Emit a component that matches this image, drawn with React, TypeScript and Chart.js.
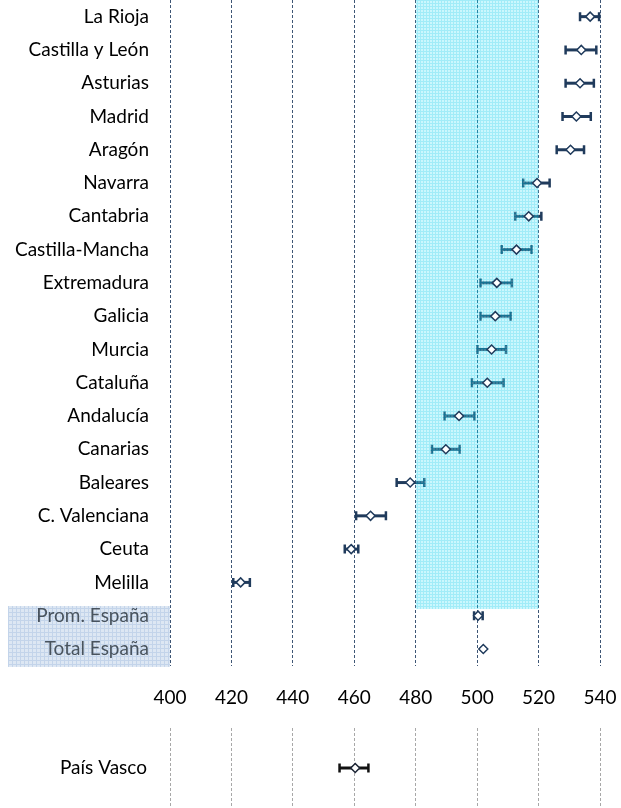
import React, { useEffect, useRef } from "react";
import { Chart, registerables } from "chart.js";

Chart.register(...registerables);

const categories = [
  "La Rioja", "Castilla y León", "Asturias", "Madrid", "Aragón", "Navarra", "Cantabria",
  "Castilla-Mancha", "Extremadura", "Galicia", "Murcia", "Cataluña", "Andalucía", "Canarias",
  "Baleares", "C. Valenciana", "Ceuta", "Melilla", "Prom. España", "Total España",
];
const means = [536.8, 533.9, 533.5, 532.3, 530.4, 519.5, 516.8, 512.8, 506.4, 505.9, 504.7, 503.3, 494.1, 489.8, 478.2, 465.3, 459.0, 423.0, 500.3, 502.0];
const lows = [533.5, 528.8, 528.8, 527.8, 525.9, 515.0, 512.4, 508.0, 501.1, 501.1, 500.1, 498.3, 489.4, 485.3, 473.8, 460.6, 456.9, 420.6, 499.0, 502.0];
const highs = [539.7, 538.8, 538.0, 537.0, 534.8, 523.6, 520.9, 517.7, 511.3, 510.9, 509.4, 508.6, 499.1, 494.3, 482.8, 470.3, 461.3, 426.0, 501.8, 502.0];

const extraCategories = ["País Vasco"];
const extraMeans = [460.3];
const extraLows = [455.2];
const extraHighs = [464.6];

const xTicks = [400, 420, 440, 460, 480, 500, 520, 540];
const bandRange = [480, 520];

const FONT = "Lato";

function makePattern(size: number, bg: string, line: string) {
  const c = document.createElement("canvas");
  c.width = size;
  c.height = size;
  const g = c.getContext("2d")!;
  g.fillStyle = bg;
  g.fillRect(0, 0, size, size);
  g.fillStyle = line;
  g.fillRect(0, 0, size, 1);
  g.fillRect(0, 0, 1, size);
  return g.createPattern(c, "repeat")!;
}

function zeroPad(s: any) {
  s.paddingTop = 0;
  s.paddingBottom = 0;
  s.paddingLeft = 0;
  s.paddingRight = 0;
}

function errorBarPlugin(lo: number[], hi: number[], color: string, band: boolean) {
  return {
    id: "errorBars",
    beforeDatasetsDraw(chart: any) {
      const { ctx, scales, chartArea } = chart;
      const x = scales.x;
      const y = scales.y;
      ctx.save();
      ctx.strokeStyle = color;
      lo.forEach((l, i) => {
        const x1 = x.getPixelForValue(l);
        const x2 = x.getPixelForValue(hi[i]);
        const yy = y.getPixelForValue(i);
        if (x2 - x1 < 1) return;
        ctx.lineWidth = 3;
        ctx.beginPath();
        ctx.moveTo(x1, yy);
        ctx.lineTo(x2, yy);
        ctx.stroke();
        ctx.lineWidth = 2.5;
        ctx.beginPath();
        ctx.moveTo(x1, yy - 4.5);
        ctx.lineTo(x1, yy + 4.5);
        ctx.moveTo(x2, yy - 4.5);
        ctx.lineTo(x2, yy + 4.5);
        ctx.stroke();
      });
      if (band) {
        const bx1 = x.getPixelForValue(bandRange[0]);
        const bx2 = x.getPixelForValue(bandRange[1]);
        const by2 = y.getPixelForValue(17.8);
        ctx.globalAlpha = 0.38;
        ctx.fillStyle = makePattern(3, "rgb(120,234,250)", "rgb(10,205,236)");
        ctx.fillRect(bx1, chartArea.top, bx2 - bx1, by2 - chartArea.top);
      }
      ctx.restore();
    },
  };
}

const labelBoxPlugin = {
  id: "labelBox",
  beforeDraw(chart: any) {
    const { ctx, scales, chartArea } = chart;
    const y = scales.y;
    const top = y.getPixelForValue(17.71);
    const bottom = y.getPixelForValue(19.54);
    ctx.save();
    ctx.fillStyle = makePattern(4, "#DDE7F3", "#C3D4EA");
    ctx.fillRect(8, top, chartArea.left - 8, bottom - top);
    ctx.restore();
  },
};

export default function App() {
  const mainRef = useRef<HTMLCanvasElement>(null);
  const extraRef = useRef<HTMLCanvasElement>(null);

  useEffect(() => {
    Chart.defaults.font.family = FONT;
    const main = new Chart(mainRef.current!, {
      type: "line",
      data: {
        labels: categories,
        datasets: [
          {
            data: means,
            showLine: false,
            pointStyle: "rectRot",
            pointRadius: 4.5,
            pointBackgroundColor: "#ffffff",
            pointBorderColor: "#203B5C",
            pointBorderWidth: 1.5,
          },
        ],
      },
      options: {
        animation: false,
        responsive: false,
        indexAxis: "y",
        layout: { autoPadding: false, padding: { left: 0, right: 21, top: 0, bottom: 0 } },
        plugins: { legend: { display: false }, tooltip: { enabled: false } },
        scales: {
          x: {
            type: "linear",
            min: 400,
            max: 540,
            afterBuildTicks: (s: any) => {
              s.ticks = xTicks.map((v) => ({ value: v }));
            },
            afterFit: (s: any) => {
              s.height = 56.4;
              zeroPad(s);
            },
            grid: { color: "#3E5675", lineWidth: 1, drawTicks: false },
            border: { display: false, dash: [3, 2] },
            ticks: { color: "#000", font: { size: 19, family: FONT }, padding: 21 },
          },
          y: {
            type: "category",
            offset: true,
            afterFit: (s: any) => {
              s.width = 170;
              zeroPad(s);
            },
            grid: { display: false, drawTicks: false, offset: true },
            border: { display: false },
            ticks: {
              color: (c: any) => (c.index >= 18 ? "#48535E" : "#000"),
              font: { size: 19, family: FONT },
              padding: 21,
              autoSkip: false,
            },
          },
        },
      },
      plugins: [labelBoxPlugin, errorBarPlugin(lows, highs, "#203B5C", true)],
    });

    const extra = new Chart(extraRef.current!, {
      type: "line",
      data: {
        labels: extraCategories,
        datasets: [
          {
            data: extraMeans,
            showLine: false,
            pointStyle: "rectRot",
            pointRadius: 4.5,
            pointBackgroundColor: "#ffffff",
            pointBorderColor: "#1A2333",
            pointBorderWidth: 1.5,
          },
        ],
      },
      options: {
        animation: false,
        responsive: false,
        indexAxis: "y",
        layout: { autoPadding: false, padding: { left: 0, right: 21, top: 6, bottom: 0 } },
        plugins: { legend: { display: false }, tooltip: { enabled: false } },
        scales: {
          x: {
            type: "linear",
            min: 400,
            max: 540,
            afterBuildTicks: (s: any) => {
              s.ticks = xTicks.map((v) => ({ value: v }));
            },
            afterFit: (s: any) => {
              s.height = 0;
              zeroPad(s);
            },
            grid: { color: "#A8A8A8", lineWidth: 1, drawTicks: false },
            border: { display: false, dash: [3, 2] },
            ticks: { display: false },
          },
          y: {
            type: "category",
            offset: true,
            afterFit: (s: any) => {
              s.width = 170;
              zeroPad(s);
            },
            grid: { display: false, drawTicks: false, offset: true },
            border: { display: false },
            ticks: { color: "#000", font: { size: 19, family: FONT }, padding: 23 },
          },
        },
      },
      plugins: [errorBarPlugin(extraLows, extraHighs, "#111111", false)],
    });

    return () => {
      main.destroy();
      extra.destroy();
    };
  }, []);

  return (
    <div style={{ position: "absolute", left: 0, top: 0, width: 621, height: 808, background: "#fff" }}>
      <canvas ref={mainRef} width={621} height={722} style={{ display: "block", width: 621, height: 722 }} />
      <canvas ref={extraRef} width={621} height={86} style={{ display: "block", width: 621, height: 86 }} />
    </div>
  );
}
